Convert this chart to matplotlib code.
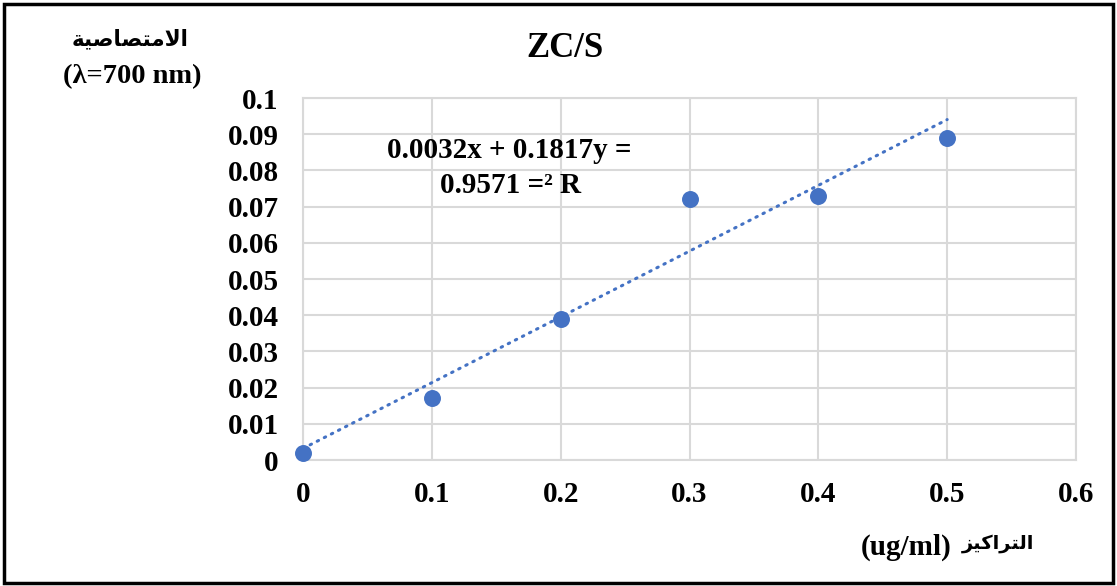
import matplotlib.pyplot as plt
from matplotlib.patches import Rectangle

# measured absorbance at each concentration
concentration = [0.0, 0.1, 0.2, 0.3, 0.4, 0.5]
absorbance = [0.002, 0.017, 0.039, 0.072, 0.073, 0.089]

# linear trendline coefficients
slope = 0.1817
intercept = 0.0032
r_squared = 0.9571

x_ticks = [0, 0.1, 0.2, 0.3, 0.4, 0.5, 0.6]
y_ticks = [0, 0.01, 0.02, 0.03, 0.04, 0.05, 0.06, 0.07, 0.08, 0.09, 0.1]

# Arabic labels in shaped (presentation) forms, visual order
y_title_ar = "\uFE94\uFEF4\uFEBB\uFE8E\uFEBC\uFE98\uFEE3\uFEFB\uFE8D"
x_title_ar = "\uFEB0\uFEF4\uFEDB\uFE8D\uFEAE\uFE98\uFEDF\uFE8D"

FONT = ["Liberation Serif", "DejaVu Sans"]
BLUE = "#4472C4"
GRID = "#d9d9d9"
W, H = 1117, 586


def fx(px):
    return px / W


def fy(py):
    return 1 - py / H


fig = plt.figure(figsize=(W / 100, H / 100), dpi=100)
ax = fig.add_axes([0.2713, 0.215, 0.692, 0.6177])

ax.scatter(concentration, absorbance, s=125, color=BLUE, zorder=3, clip_on=False)

# trendline over the data range
x0, x1 = concentration[0], concentration[-1]
ax.plot([x0, x1], [intercept + slope * x0, intercept + slope * x1],
        color=BLUE, lw=2.2, linestyle=(0, (0.5, 2.1)), dash_capstyle="round",
        zorder=2)

ax.set_xlim(0, 0.6)
ax.set_ylim(0, 0.1)
ax.set_xticks(x_ticks)
ax.set_yticks(y_ticks)
ax.set_xticklabels([f"{v:g}" for v in x_ticks])
ax.set_yticklabels([f"{v:g}" for v in y_ticks])
ax.grid(True, color=GRID, lw=1.5)
ax.set_axisbelow(True)
for sp in ax.spines.values():
    sp.set_color(GRID)
    sp.set_linewidth(1.5)
ax.tick_params(length=0, labelsize=21)
ax.tick_params(axis="y", pad=17.5)
ax.tick_params(axis="x", pad=15)
for lbl in ax.get_xticklabels() + ax.get_yticklabels():
    lbl.set_family(FONT)
    lbl.set_fontweight("bold")

bold = dict(family=FONT, fontweight="bold")

# trendline equation, as shown by the spreadsheet
fig.text(fx(509), fy(158), f"{intercept:.4f}x + {slope:.4f}y =",
         fontsize=21, ha="center", va="baseline", **bold)
fig.text(fx(511), fy(193), f"{r_squared:.4f} =\u00b2 R",
         fontsize=21, ha="center", va="baseline", **bold)

fig.text(fx(565), fy(57), "ZC/S", fontsize=25, ha="center", va="baseline", **bold)

fig.text(fx(130), fy(40), y_title_ar, fontsize=15.5, ha="center", va="center", **bold)
fig.text(fx(132), fy(83), "(\u03bb=700 nm)", fontsize=20.5, ha="center",
         va="baseline", **bold)

fig.text(fx(952), fy(555), "(ug/ml)", fontsize=21, ha="right", va="baseline", **bold)
fig.text(fx(1034), fy(544), x_title_ar, fontsize=14, ha="right", va="center", **bold)

# chart frame
fig.patches.append(Rectangle((fx(4), 3 / H), 1109 / W, 579 / H,
                             transform=fig.transFigure, fill=False,
                             edgecolor="black", lw=2.5))

fig.savefig("out.png", dpi=100)
